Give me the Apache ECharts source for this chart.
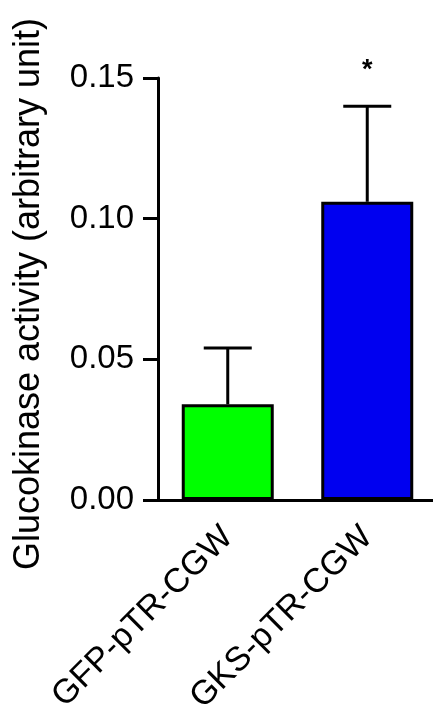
<!DOCTYPE html>
<html>
<head>
<meta charset="utf-8">
<script src="https://cdn.jsdelivr.net/npm/echarts@6/dist/echarts.min.js"></script>
<style>
  html, body { margin: 0; padding: 0; background: #fff; }
  #chart { width: 433px; height: 715px; }
</style>
</head>
<body>
<div id="chart"></div>
<script>
// Glucokinase activity per construct: mean, SEM and significance mark
const categories = ['GFP-pTR-CGW', 'GKS-pTR-CGW'];
const means = [0.034, 0.106];
const errors = [0.020, 0.034];
const significance = ['', '*'];
const barColors = ['#00ff00', '#0000f0'];
const yTicks = [0, 0.05, 0.10, 0.15];

const FONT = "'Liberation Sans', Arial, sans-serif";

const chart = echarts.init(document.getElementById('chart'), null, { renderer: 'canvas' });

const errorData = means.map((m, i) => [i, m, m + errors[i]]);

chart.setOption({
  animation: false,
  backgroundColor: '#ffffff',
  grid: {
    left: 158, top: 78, width: 279, height: 422,
    containLabel: false,
    outerBoundsMode: 'none'
  },
  xAxis: {
    type: 'category',
    data: categories,
    axisLine: { show: true, lineStyle: { color: '#000', width: 3 } },
    axisTick: { show: false },
    axisLabel: {
      rotate: 45,
      margin: 32,
      color: '#000',
      fontFamily: FONT,
      fontSize: 34
    }
  },
  yAxis: {
    type: 'value',
    min: yTicks[0],
    max: yTicks[yTicks.length - 1],
    interval: 0.05,
    name: 'Glucokinase activity (arbitrary unit)',
    nameLocation: 'middle',
    nameRotate: 90,
    nameGap: 111,
    nameTextStyle: {
      color: '#000', fontFamily: FONT, fontSize: 36,
      padding: [0, 10, 0, 0]
    },
    splitLine: { show: false },
    axisLine: { show: true, lineStyle: { color: '#000', width: 3 } },
    axisTick: { show: true, length: 15, lineStyle: { color: '#000', width: 3 } },
    axisLabel: {
      margin: 24,
      color: '#000',
      fontFamily: FONT,
      fontSize: 33,
      formatter: v => v.toFixed(2)
    }
  },
  series: [
    {
      type: 'bar',
      barWidth: 92,
      data: means.map((m, i) => ({
        value: m,
        itemStyle: { color: barColors[i], borderColor: '#000', borderWidth: 3 }
      })),
      z: 2
    },
    {
      type: 'custom',
      z: 3,
      data: errorData,
      renderItem: function (params, api) {
        const idx = api.value(0);
        const base = api.coord([idx, api.value(1)]);
        const top = api.coord([idx, api.value(2)]);
        const capHalf = 24;
        const style = { stroke: '#000', lineWidth: 3 };
        const children = [
          { type: 'line', shape: { x1: base[0], y1: base[1], x2: top[0], y2: top[1] }, style: style },
          { type: 'line', shape: { x1: top[0] - capHalf, y1: top[1], x2: top[0] + capHalf, y2: top[1] }, style: style }
        ];
        const mark = significance[params.dataIndex];
        if (mark) {
          children.push({
            type: 'text',
            style: {
              text: mark,
              x: top[0],
              y: top[1] - 22,
              align: 'center',
              verticalAlign: 'bottom',
              fill: '#000',
              font: 'bold 27px ' + FONT
            }
          });
        }
        return { type: 'group', children: children };
      }
    }
  ]
});
</script>
</body>
</html>
